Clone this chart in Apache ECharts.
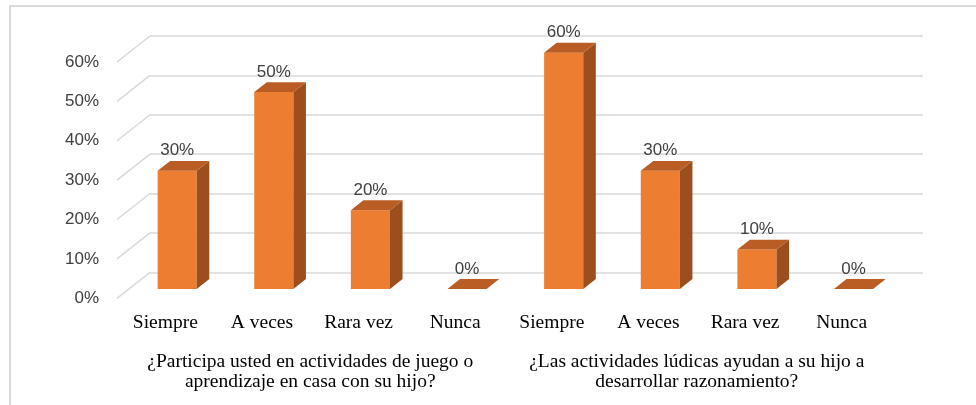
<!DOCTYPE html>
<html>
<head>
<meta charset="utf-8">
<script src="https://cdn.jsdelivr.net/npm/echarts@6/dist/echarts.min.js"></script>
<style>
  html, body { margin: 0; padding: 0; background: #fff; }
  #main { width: 976px; height: 405px; }
</style>
</head>
<body>
<div id="main"></div>
<script>
// datos
var categories = ['Siempre', 'A veces', 'Rara vez', 'Nunca', 'Siempre', 'A veces', 'Rara vez', 'Nunca'];
var values = [0.30, 0.50, 0.20, 0, 0.60, 0.30, 0.10, 0];
var groupTitles = [
  '¿Participa usted en actividades de juego o\naprendizaje en casa con su hijo?',
  '¿Las actividades lúdicas ayudan a su hijo a\ndesarrollar razonamiento?'
];
var groupRanges = [[0, 3], [4, 7]];
var yTicks = [0, 0.1, 0.2, 0.3, 0.4, 0.5, 0.6];

// profundidad 3D (pared del fondo -> borde frontal)
var DX = -33, DY = 26;
var F_FRONT = 0.64, F_BACK = 0.26;
var C_FRONT = '#ED7D31', C_SIDE = '#9C4E1D', C_TOP = '#B95D24';

function pct(v) { return Math.round(v * 100) + '%'; }

function renderBar(params, api) {
  var i = api.value(0), v = api.value(1);
  var base = api.coord([i, 0]);
  var top = api.coord([i, v]);
  var w = api.size([1, 0])[0] * 0.405;
  var x0 = base[0] + DX * F_FRONT - w / 2, x1 = x0 + w;
  var yb = base[1] + DY * F_FRONT, yt = top[1] + DY * F_FRONT;
  var ddx = DX * (F_BACK - F_FRONT), ddy = DY * (F_BACK - F_FRONT);
  var children = [];
  if (yb - yt > 0.5) {
    children.push({ type: 'rect', shape: { x: x0, y: yt, width: w, height: yb - yt }, style: { fill: C_FRONT } });
    children.push({ type: 'polygon', shape: { points: [[x1, yt], [x1 + ddx, yt + ddy], [x1 + ddx, yb + ddy], [x1, yb]] }, style: { fill: C_SIDE } });
  }
  children.push({ type: 'polygon', shape: { points: [[x0, yt], [x1, yt], [x1 + ddx, yt + ddy], [x0 + ddx, yt + ddy]] }, style: { fill: C_TOP } });
  children.push({ type: 'text', style: {
    x: (x0 + x1) / 2, y: yt - 20, text: pct(v), align: 'center', verticalAlign: 'middle',
    fontFamily: 'Liberation Sans', fontSize: 17, fill: '#404040' } });
  return { type: 'group', children: children };
}

function renderTick(params, api) {
  var v = api.value(1);
  var p = api.coord([0, v]);
  var x = params.coordSys.x;
  return { type: 'group', children: [
    { type: 'line', shape: { x1: x, y1: p[1], x2: x + DX, y2: p[1] + DY }, style: { stroke: '#D9D9D9', lineWidth: 1.5 } },
    { type: 'text', style: { x: x + DX - 18, y: p[1] + DY, text: pct(v), align: 'right', verticalAlign: 'middle',
      fontFamily: 'Liberation Sans', fontSize: 17, fill: '#404040' } }
  ] };
}

function renderCat(params, api) {
  var i = api.value(0);
  var p = api.coord([i, 0]);
  return { type: 'text', style: { x: p[0] + DX, y: p[1] + 50.4, text: categories[i], align: 'center', verticalAlign: 'middle',
    fontFamily: 'Liberation Serif', fontSize: 19.5, fill: '#000' } };
}

function renderGroup(params, api) {
  var g = api.value(0);
  var a = api.coord([groupRanges[g][0], 0]), b = api.coord([groupRanges[g][1], 0]);
  return { type: 'text', style: { x: (a[0] + b[0]) / 2 + DX, y: a[1] + 79.4, text: groupTitles[g], align: 'center', verticalAlign: 'top',
    lineHeight: 20, fontFamily: 'Liberation Serif', fontSize: 19.5, fill: '#000' } };
}

var chart = echarts.init(document.getElementById('main'));
chart.setOption({
  animation: false,
  grid: { left: 150, right: 53, top: 36, bottom: 132.7 },
  xAxis: { type: 'category', data: categories.map(function (c, i) { return String(i); }),
    axisLine: { show: false }, axisTick: { show: false }, axisLabel: { show: false } },
  yAxis: { type: 'value', min: 0, max: 0.6, interval: 0.1, axisLabel: { show: false },
    splitLine: { lineStyle: { color: '#D9D9D9', width: 1.5 } } },
  graphic: [{ type: 'rect', shape: { x: 10, y: 6, width: 1000, height: 500 }, style: { fill: 'none', stroke: '#D9D9D9', lineWidth: 2 } }],
  series: [
    { type: 'custom', clip: false, renderItem: renderTick, data: yTicks.map(function (v) { return [0, v]; }) },
    { type: 'custom', clip: false, renderItem: renderBar, data: values.map(function (v, i) { return [i, v]; }) },
    { type: 'custom', clip: false, renderItem: renderCat, data: categories.map(function (c, i) { return [i, 0]; }) },
    { type: 'custom', clip: false, renderItem: renderGroup, data: groupTitles.map(function (t, i) { return [i, 0]; }) }
  ]
});
</script>
</body>
</html>
